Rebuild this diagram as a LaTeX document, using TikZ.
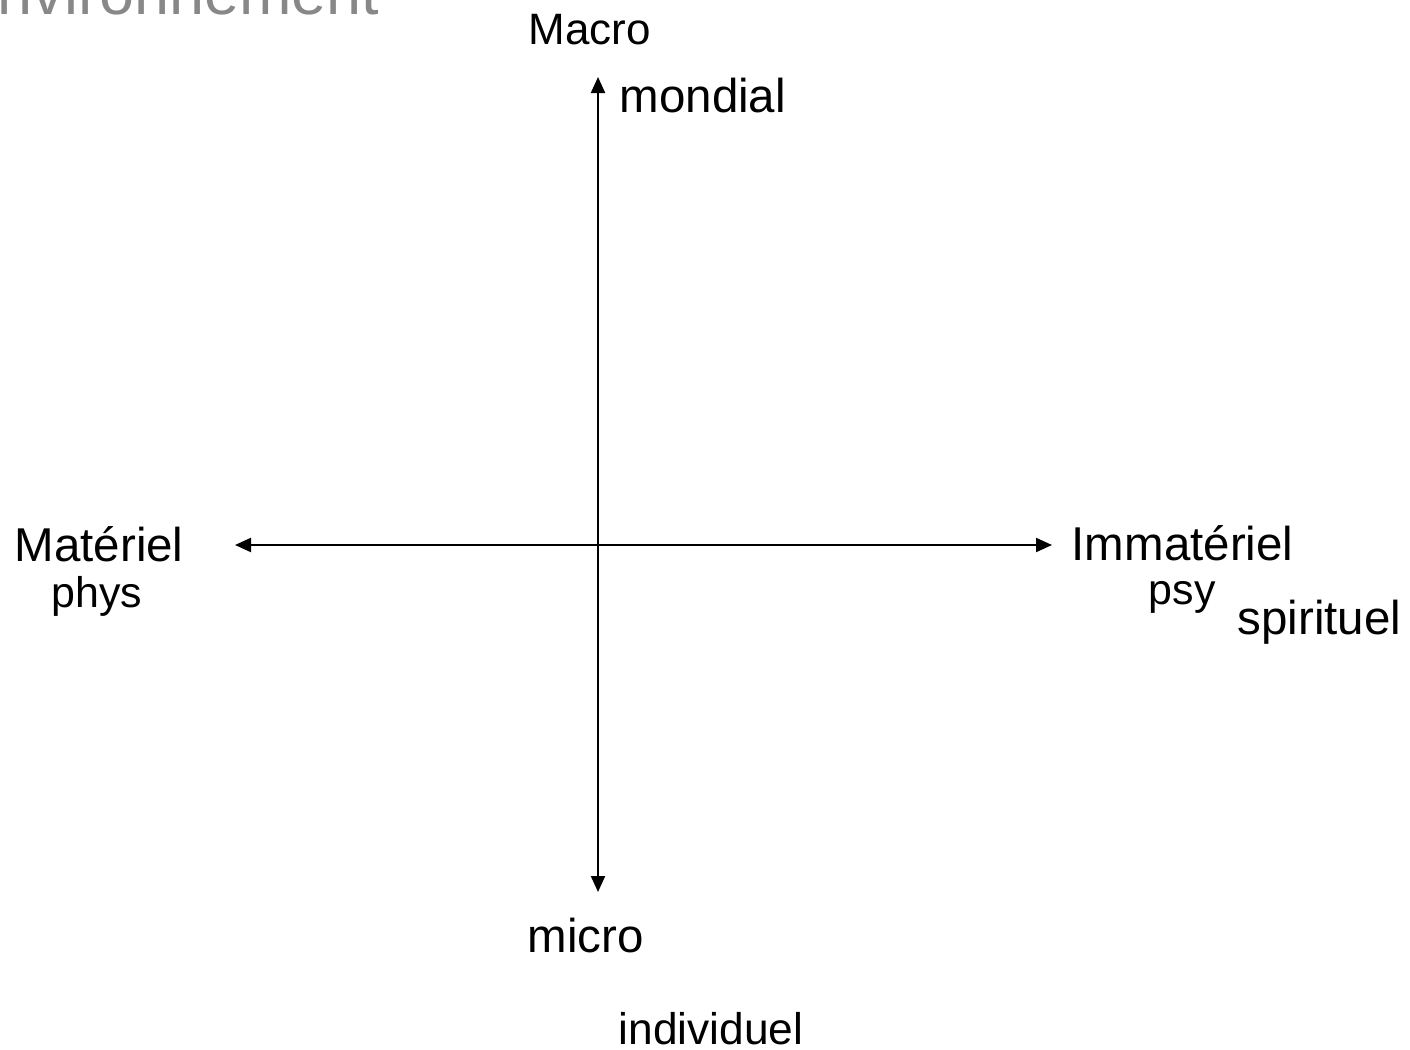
\documentclass[tikz,border=0pt]{standalone}
\usepackage{fontspec}
\setmainfont{Liberation Sans}
\usetikzlibrary{arrows.meta}
\definecolor{titlegray}{RGB}{136,136,136}

\begin{document}
\begin{tikzpicture}[x=0.01cm,y=-0.01cm,
    lbl/.style={inner sep=0pt,anchor=base west,font=\fontsize{13.5pt}{15pt}\selectfont},
    smalllbl/.style={lbl,font=\fontsize{12.2pt}{14pt}\selectfont},
    axis/.style={line width=0.6pt,{Triangle[length=0.16cm,width=0.14cm]}-{Triangle[length=0.16cm,width=0.14cm]}}]
    \useasboundingbox (0,0) rectangle (1410,1049);
    \clip (0,0) rectangle (1410,1049);
    \node[lbl,text=titlegray,font=\fontsize{17.9pt}{20pt}\selectfont] (titre) at (-45,15) {Environnement};

    \coordinate (haut) at (598,77);
    \coordinate (bas) at (598,892);
    \coordinate (gauche) at (235,545);
    \coordinate (droite) at (1052,545);
    \draw[axis] (bas) -- (haut);
    \draw[axis] (gauche) -- (droite);

    \node[lbl,font=\fontsize{12.5pt}{14pt}\selectfont] (macro) at (528,45) {Macro};
    \node[lbl] (mondial) at (619,113) {mondial};
    \node[lbl] (materiel) at (14,561) {Matériel};
    \node[smalllbl] (phys) at (51,607) {phys};
    \node[lbl] (immateriel) at (1071,560) {Immatériel};
    \node[smalllbl] (psy) at (1148,604) {psy};
    \node[lbl] (spirituel) at (1237,634) {spirituel};
    \node[lbl] (micro) at (527,952) {micro};
    \node[lbl,font=\fontsize{12.6pt}{14pt}\selectfont] (individuel) at (618,1044) {individuel};
\end{tikzpicture}
\end{document}
